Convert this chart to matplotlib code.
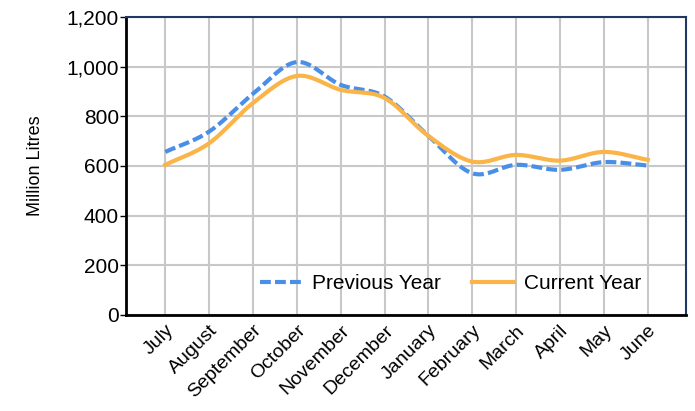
import numpy as np
import matplotlib.pyplot as plt
import matplotlib.transforms as mtransforms

plt.rcParams['font.family'] = ['Liberation Sans', 'DejaVu Sans']

months = ['July', 'August', 'September', 'October', 'November', 'December',
          'January', 'February', 'March', 'April', 'May', 'June']
previous_year = [656, 738, 890, 1018, 926, 879, 720, 570, 604, 584, 615, 601]
current_year = [604, 691, 853, 962, 906, 873, 720, 617, 644, 621, 656, 624]
yticks = [0, 200, 400, 600, 800, 1000, 1200]


def smooth(y, n=30):
    """Catmull-Rom curve through the points, for the rounded look."""
    y = np.asarray(y, dtype=float)
    p = np.concatenate([[2 * y[0] - y[1]], y, [2 * y[-1] - y[-2]]])
    xs, ys = [], []
    for i in range(len(y) - 1):
        t = np.linspace(0, 1, n, endpoint=False)
        p0, p1, p2, p3 = p[i], p[i + 1], p[i + 2], p[i + 3]
        seg = 0.5 * ((2 * p1) + (-p0 + p2) * t + (2 * p0 - 5 * p1 + 4 * p2 - p3) * t ** 2
                     + (-p0 + 3 * p1 - 3 * p2 + p3) * t ** 3)
        xs.append(i + t)
        ys.append(seg)
    xs.append([len(y) - 1])
    ys.append([y[-1]])
    return np.concatenate(xs), np.concatenate(ys)


fig = plt.figure(figsize=(6.95, 4.11), dpi=100)
ax = fig.add_axes([0.181, 0.234, 0.806, 0.725])

x = np.arange(len(months))
sx, sy = smooth(previous_year)
ax.plot(sx, sy, color='#4A8FE7', lw=3, ls=(0, (2.6, 1.0)), label='Previous Year', zorder=3)
sx, sy = smooth(current_year)
ax.plot(sx, sy, color='#FBB448', lw=3, label='Current Year', zorder=3)

ax.set_xlim(-0.9, 11.87)
ax.set_ylim(0, 1200)
ax.set_xticks(x)
ax.set_xticklabels(months, rotation=45, ha='right', va='top', rotation_mode='anchor', fontsize=14)
# nudge the slanted month names a little to the right, like the original
shift = mtransforms.ScaledTranslation(5 / 72, 0, fig.dpi_scale_trans)
for lbl in ax.get_xticklabels():
    lbl.set_transform(lbl.get_transform() + shift)
ax.set_yticks(yticks)
ax.set_yticklabels([f'{v:,}' for v in yticks], fontsize=15)
ax.tick_params(axis='x', length=0, pad=5)
ax.tick_params(axis='y', length=4, width=1, pad=1)
ax.grid(True, color='#C8C8C8', lw=1.5)
ax.set_axisbelow(True)

for side in ['left', 'bottom']:
    ax.spines[side].set_color('black')
    ax.spines[side].set_linewidth(2)
for side in ['top', 'right']:
    ax.spines[side].set_color('#1F3864')
    ax.spines[side].set_linewidth(1.5)

ax.set_ylabel('Million Litres', fontsize=13, labelpad=16)

ax.legend(loc='center', ncol=2, frameon=False, fontsize=15,
          bbox_to_anchor=(0.5795, 0.105), handlelength=2.0, handletextpad=0.5,
          columnspacing=1.5)

fig.savefig('out.png', dpi=100)
